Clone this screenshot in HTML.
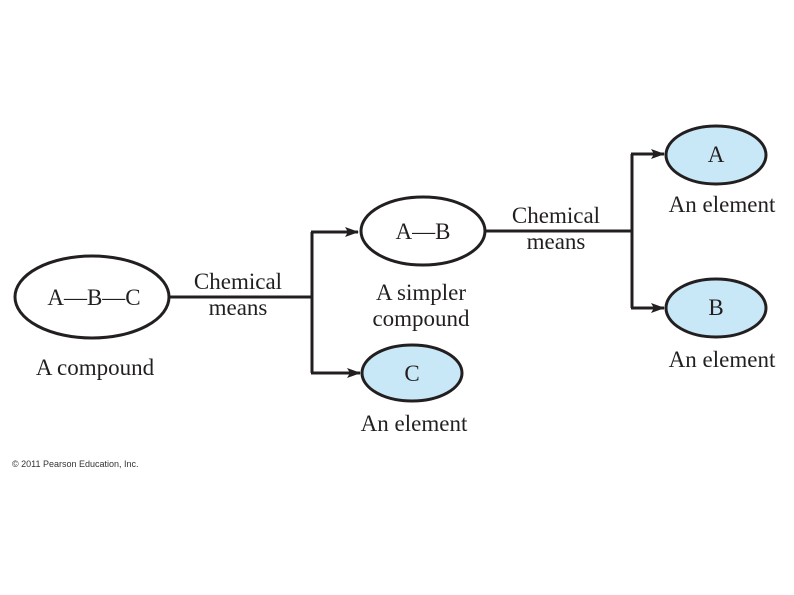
<!DOCTYPE html>
<html><head><meta charset="utf-8"><style>
html,body{margin:0;padding:0;background:#fff;}
svg{display:block;}
text{font-family:"Liberation Serif",serif;fill:#231f20;}
</style></head><body>
<svg width="794" height="595" viewBox="0 0 794 595" xmlns="http://www.w3.org/2000/svg">
<defs>
<marker id="ar" markerWidth="14" markerHeight="12" refX="13" refY="6" orient="auto" markerUnits="userSpaceOnUse">
<path d="M0,1 L14,6 L0,11 L3,6 Z" fill="#231f20"/>
</marker>
</defs>
<g stroke="#231f20" stroke-width="3" fill="none">
<ellipse cx="92" cy="297" rx="77" ry="41" fill="#fff"/>
<ellipse cx="423" cy="231" rx="62" ry="34" fill="#fff"/>
<ellipse cx="412" cy="373" rx="50" ry="28" fill="#c9e8f7"/>
<ellipse cx="716" cy="155" rx="50" ry="29" fill="#c9e8f7"/>
<ellipse cx="716" cy="308" rx="50" ry="29" fill="#c9e8f7"/>
<path d="M169,297 H312"/>
<path d="M312,232 V373"/>
<path d="M311,232 H358" marker-end="url(#ar)"/>
<path d="M311,373 H360" marker-end="url(#ar)"/>
<path d="M485,231 H632"/>
<path d="M632,154 V308"/>
<path d="M631,154 H664" marker-end="url(#ar)"/>
<path d="M631,308 H664" marker-end="url(#ar)"/>
</g>
<g font-size="23" text-anchor="middle">
<text x="94" y="305">A—B—C</text>
<text x="423" y="239">A—B</text>
<text x="412" y="381">C</text>
<text x="716" y="162">A</text>
<text x="716" y="315">B</text>
<text x="238" y="289">Chemical</text>
<text x="238" y="315">means</text>
<text x="556" y="223">Chemical</text>
<text x="556" y="249">means</text>
<text x="95" y="375">A compound</text>
<text x="421" y="300">A simpler</text>
<text x="421" y="326">compound</text>
<text x="414" y="431">An element</text>
<text x="722" y="212">An element</text>
<text x="722" y="367">An element</text>
</g>
<text x="12" y="467" font-size="9" style="font-family:'Liberation Sans',sans-serif;fill:#333">© 2011 Pearson Education, Inc.</text>
</svg>
</body></html>
